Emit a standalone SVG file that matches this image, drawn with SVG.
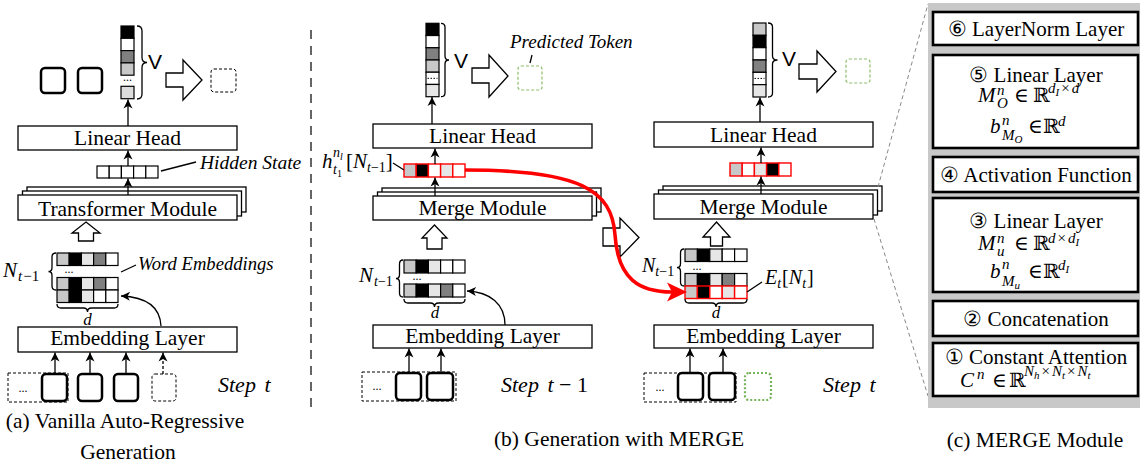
<svg xmlns="http://www.w3.org/2000/svg" width="1140" height="466" viewBox="0 0 1140 466">
<style>
.box{fill:#fff;stroke:#000;stroke-width:1.3}
.t{font-family:"Liberation Serif","DejaVu Serif",serif;font-size:21.5px;fill:#000}
.m{font-family:"Liberation Serif","DejaVu Serif",serif;fill:#000}
.it{font-style:italic}
.sans{font-family:"Liberation Sans",Arial,sans-serif;font-size:21px;fill:#000}
.c{stroke:#000;stroke-width:1.2}
.rc{stroke:#f00;stroke-width:1.4}
.ln{stroke:#000;stroke-width:1.3;fill:none}
.ar{stroke:#000;stroke-width:1.3;fill:none;marker-end:url(#ah)}
.tok{fill:#fff;stroke:#000;stroke-width:2.5}
.dash{fill:none;stroke:#000;stroke-width:1;stroke-dasharray:3 2}
.gdash{fill:none;stroke:#8dbd6c;stroke-width:1.2;stroke-dasharray:3 2}
.hol{fill:#fff;stroke:#000;stroke-width:1.3}
.cbox{fill:#fff;stroke:#000;stroke-width:2.6}
.L1{fill:#c8c8c8}.L2{fill:#e6e6e6}.D{fill:#808080}.B{fill:#000}.W{fill:#fff}
.dots{font-family:"Liberation Serif",serif;font-size:12px;fill:#000}
.ct{font-family:"Liberation Serif","DejaVu Serif",serif;font-size:21px;fill:#000}
.u{font-style:normal}
</style>
<defs>
<marker id="ah" viewBox="-10 -6 11 12" markerWidth="11" markerHeight="12" refX="0" refY="0" orient="auto" markerUnits="userSpaceOnUse">
<path d="M0,0 L-9,-4.5 L-6.5,0 L-9,4.5 z" fill="#000"/>
</marker>
</defs>

<!-- ===== Panel (a) ===== -->
<g id="a-output">
<rect x="121" y="26" width="13" height="12.3" class="c B"/>
<rect x="121" y="38.3" width="13" height="12.3" class="c W"/>
<rect x="121" y="50.6" width="13" height="12.3" class="c D"/>
<rect x="121" y="62.9" width="13" height="12.3" class="c L1"/>
<text x="127.5" y="81" class="dots" text-anchor="middle">...</text>
<rect x="121" y="86.3" width="13" height="12.4" class="c" fill="#dcdcdc"/>
<path d="M137,26 Q142,26 142,31 L142,57.5 Q142,62.5 147,62.5 Q142,62.5 142,67.5 L142,94 Q142,99 137,99" class="ln"/>
<text x="148" y="69" class="sans">V</text>
<polygon points="166,73 183,73 183,60 202,80 183,100 183,87 166,87" class="hol"/>
<rect x="211" y="69" width="25" height="23" rx="3" class="dash"/>
<rect x="41" y="68" width="24" height="25" rx="4" class="tok"/>
<rect x="78" y="68" width="24" height="25" rx="4" class="tok"/>
</g>
<g id="a-linear-head">
<rect x="18" y="126" width="219" height="24" class="box"/>
<text x="127.5" y="145" class="t" text-anchor="middle">Linear Head</text>
</g>
<g id="a-hidden-state">
<rect x="97" y="166" width="12.2" height="12" class="c W"/>
<rect x="109.2" y="166" width="12.2" height="12" class="c W"/>
<rect x="121.4" y="166" width="12.2" height="12" class="c W"/>
<rect x="133.6" y="166" width="12.2" height="12" class="c W"/>
<rect x="145.8" y="166" width="12.2" height="12" class="c W"/>
<line x1="161" y1="171" x2="196" y2="162" class="ln"/>
<text x="200" y="169" class="t it" style="font-size:19.5px">Hidden State</text>
</g>
<g id="a-transformer">
<rect x="27" y="187" width="219" height="25" class="box"/>
<rect x="22.5" y="191" width="219" height="25" class="box"/>
<rect x="18" y="195" width="219" height="25" class="box"/>
<text x="127.5" y="215.5" class="t" text-anchor="middle">Transformer Module</text>
</g>
<g id="a-embeddings">
<polygon points="86,222 100,233 93.5,233 93.5,241 78.5,241 78.5,233 72,233" class="hol"/>
<rect x="57" y="253" width="12.2" height="12.5" class="c L1"/>
<rect x="69.2" y="253" width="12.2" height="12.5" class="c B"/>
<rect x="81.4" y="253" width="12.2" height="12.5" class="c L2"/>
<rect x="93.6" y="253" width="12.2" height="12.5" class="c D"/>
<rect x="105.8" y="253" width="12.2" height="12.5" class="c W"/>
<text x="69" y="273" class="dots" text-anchor="middle">...</text>
<rect x="57" y="277.5" width="12.2" height="12.5" class="c L1"/>
<rect x="69.2" y="277.5" width="12.2" height="12.5" class="c B"/>
<rect x="81.4" y="277.5" width="12.2" height="12.5" class="c L2"/>
<rect x="93.6" y="277.5" width="12.2" height="12.5" class="c D"/>
<rect x="105.8" y="277.5" width="12.2" height="12.5" class="c W"/>
<rect x="57" y="290" width="12.2" height="12.5" class="c L1"/>
<rect x="69.2" y="290" width="12.2" height="12.5" class="c B"/>
<rect x="81.4" y="290" width="12.2" height="12.5" class="c L2"/>
<rect x="93.6" y="290" width="12.2" height="12.5" class="c W"/>
<rect x="105.8" y="290" width="12.2" height="12.5" class="c W"/>
<path d="M56,253 Q52,253 52,257 L52,267.5 Q52,271.5 48.5,271.5 Q52,271.5 52,275.5 L52,286 Q52,290 56,290" class="ln"/>
<text x="3" y="277" class="m it" font-size="21">N<tspan y="281" dx="1" font-size="15">t</tspan><tspan font-size="15" dx="1" class="u">−1</tspan></text>
<line x1="121" y1="272" x2="136" y2="265" class="ln"/>
<text x="138" y="270" class="t it" style="font-size:18.6px">Word Embeddings</text>
<path d="M57,304 Q57,308 61,308 L83.5,308 Q87.5,308 87.5,312 Q87.5,308 91.5,308 L114,308 Q118,308 118,304" class="ln"/>
<text x="87.5" y="325" class="m it" font-size="17" text-anchor="middle">d</text>
</g>
<g id="a-embedding-layer">
<rect x="18" y="327" width="219" height="25" class="box"/>
<text x="127.5" y="345" class="t" text-anchor="middle">Embedding Layer</text>
</g>
<g id="a-inputs">
<rect x="8" y="373" width="60" height="29" class="dash"/>
<text x="23" y="392" class="dots" text-anchor="middle">...</text>
<rect x="42" y="374" width="25" height="27" rx="4" class="tok"/>
<rect x="78" y="374" width="24" height="27" rx="4" class="tok"/>
<rect x="114" y="374" width="24" height="27" rx="4" class="tok"/>
<rect x="152" y="374" width="24" height="27" rx="3" class="dash"/>
<text x="218" y="392" class="t it" style="font-size:22px">Step <tspan dx="3">t</tspan></text>
</g>
<text x="125" y="428" class="t" text-anchor="middle">(a) Vanilla Auto-Regressive</text>
<text x="128" y="459" class="t" text-anchor="middle">Generation</text>
<line x1="311" y1="30" x2="311" y2="412" stroke="#000" stroke-width="1.2" stroke-dasharray="9 7"/>

<!-- ===== Panel (b) ===== -->
<g id="b-output">
<rect x="426" y="23.3" width="13" height="12.23" class="c B"/>
<rect x="426" y="35.53" width="13" height="12.23" class="c W"/>
<rect x="426" y="47.76" width="13" height="12.23" class="c D"/>
<rect x="426" y="59.99" width="13" height="12.23" class="c L1"/>
<rect x="426" y="72.22" width="13" height="12.23" class="c W"/>
<line x1="427.5" y1="78.3" x2="437.5" y2="78.3" stroke="#000" stroke-width="1" stroke-dasharray="1.5 1.5"/>
<rect x="426" y="84.45" width="13" height="12.25" class="c L2"/>
<path d="M441,23.3 Q445,23.3 445,27.3 L445,56 Q445,60 449,60 Q445,60 445,64 L445,92.7 Q445,96.7 441,96.7" class="ln"/>
<text x="454" y="68" class="sans">V</text>
<polygon points="472,68 489,68 489,55 508,76 489,97 489,83 472,83" class="hol"/>
<rect x="518" y="66" width="24" height="24" rx="3" class="gdash"/>
<line x1="532" y1="55" x2="530" y2="63" class="ln"/>
<text x="510" y="48" class="t it" style="font-size:19px">Predicted Token</text>
</g>
<g id="b-linear-head">
<rect x="373" y="124" width="219" height="24" class="box"/>
<text x="482.5" y="143" class="t" text-anchor="middle">Linear Head</text>
</g>
<g id="b-hidden">
<rect x="404" y="164" width="12.2" height="13" class="rc L1"/>
<rect x="416.2" y="164" width="12.2" height="13" class="rc B"/>
<rect x="428.4" y="164" width="12.2" height="13" class="rc W"/>
<rect x="440.6" y="164" width="12.2" height="13" class="rc L2"/>
<rect x="452.8" y="164" width="12.2" height="13" class="rc W"/>
<line x1="393" y1="163" x2="404" y2="170" class="ln"/>
<text x="322" y="168" class="m it" font-size="21">h<tspan x="333" y="157" font-size="14">n</tspan><tspan y="160" font-size="10">l</tspan><tspan x="333" y="174" font-size="14">t</tspan><tspan y="177" font-size="10" class="u">1</tspan><tspan x="346" y="168" class="u">[</tspan><tspan>N</tspan><tspan y="172" font-size="14">t</tspan><tspan font-size="14" class="u">−1</tspan><tspan y="168" class="u">]</tspan></text>
</g>
<g id="b-merge">
<rect x="382" y="188" width="219" height="24" class="box"/>
<rect x="377.5" y="192" width="219" height="24" class="box"/>
<rect x="373" y="196" width="219" height="24" class="box"/>
<text x="482.5" y="215" class="t" text-anchor="middle">Merge Module</text>
</g>
<g id="b-embeddings">
<polygon points="434.5,225 447,238 442,238 442,249 427,249 427,238 422,238" class="hol"/>
<rect x="404" y="260" width="12.2" height="13" class="c L1"/>
<rect x="416.2" y="260" width="12.2" height="13" class="c B"/>
<rect x="428.4" y="260" width="12.2" height="13" class="c L2"/>
<rect x="440.6" y="260" width="12.2" height="13" class="c W"/>
<rect x="452.8" y="260" width="12.2" height="13" class="c W"/>
<text x="417" y="280" class="dots" text-anchor="middle">...</text>
<rect x="404" y="284" width="12.2" height="13" class="c L1"/>
<rect x="416.2" y="284" width="12.2" height="13" class="c B"/>
<rect x="428.4" y="284" width="12.2" height="13" class="c L2"/>
<rect x="440.6" y="284" width="12.2" height="13" class="c D"/>
<rect x="452.8" y="284" width="12.2" height="13" class="c W"/>
<path d="M403,260 Q399.5,260 399.5,264 L399.5,274.5 Q399.5,278.5 396,278.5 Q399.5,278.5 399.5,282.5 L399.5,293 Q399.5,297 403,297" class="ln"/>
<text x="359" y="282" class="m it" font-size="21">N<tspan y="286" dx="1" font-size="14">t</tspan><tspan font-size="14" class="u">−1</tspan></text>
<path d="M404,299 Q404,303 408,303 L430.5,303 Q434.5,303 434.5,307 Q434.5,303 438.5,303 L461,303 Q465,303 465,299" class="ln"/>
<text x="435" y="318" class="m it" font-size="17" text-anchor="middle">d</text>
</g>
<g id="b-embedding-layer">
<rect x="373" y="325" width="219" height="23" class="box"/>
<text x="482.5" y="343" class="t" text-anchor="middle">Embedding Layer</text>
</g>
<g id="b-inputs">
<rect x="362" y="372" width="94" height="29" class="dash"/>
<text x="377" y="390" class="dots" text-anchor="middle">...</text>
<rect x="396" y="373" width="25" height="27" rx="4" class="tok"/>
<rect x="427" y="373" width="26" height="27" rx="4" class="tok"/>
<text x="501" y="392" class="t" style="font-size:22px"><tspan font-style="italic">Step</tspan> <tspan font-style="italic" dx="3">t</tspan> − 1</text>
</g>
<text x="619" y="446" class="t" text-anchor="middle">(b) Generation with MERGE</text>

<!-- ===== Panel (b) right: step t ===== -->
<g id="b2-output">
<rect x="753" y="23" width="13" height="12.33" class="c L1"/>
<rect x="753" y="35.33" width="13" height="12.33" class="c B"/>
<rect x="753" y="47.66" width="13" height="12.33" class="c W"/>
<rect x="753" y="59.99" width="13" height="12.33" class="c D"/>
<rect x="753" y="72.32" width="13" height="12.33" class="c W"/>
<line x1="754.5" y1="78.4" x2="764.5" y2="78.4" stroke="#000" stroke-width="1" stroke-dasharray="1.5 1.5"/>
<rect x="753" y="84.65" width="13" height="12.35" class="c L2"/>
<path d="M768,23 Q772.5,23 772.5,27 L772.5,56 Q772.5,60 777.5,60 Q772.5,60 772.5,64 L772.5,93 Q772.5,97 768,97" class="ln"/>
<text x="782" y="66" class="sans">V</text>
<polygon points="799,64 817,64 817,51 836,71.5 817,92 817,79 799,79" class="hol"/>
<rect x="846" y="59" width="24" height="24" rx="3" class="gdash"/>
</g>
<g id="b2-linear-head">
<rect x="654" y="122" width="219" height="25" class="box"/>
<text x="763.5" y="142" class="t" text-anchor="middle">Linear Head</text>
</g>
<g id="b2-hidden">
<rect x="730" y="163" width="12.2" height="13" class="rc L1"/>
<rect x="742.2" y="163" width="12.2" height="13" class="rc W"/>
<rect x="754.4" y="163" width="12.2" height="13" class="rc L2"/>
<rect x="766.6" y="163" width="12.2" height="13" class="rc B"/>
<rect x="778.8" y="163" width="12.2" height="13" class="rc W"/>
</g>
<g id="b2-merge">
<rect x="663" y="186" width="219" height="25" class="box"/>
<rect x="658.5" y="190" width="219" height="25" class="box"/>
<rect x="654" y="194" width="219" height="25" class="box"/>
<text x="763.5" y="214" class="t" text-anchor="middle">Merge Module</text>
</g>
<g id="b2-embeddings">
<polygon points="716.5,222 730,237 722.5,237 722.5,246 710.5,246 710.5,237 703,237" class="hol"/>
<rect x="685" y="249" width="12.4" height="12.5" class="c L1"/>
<rect x="697.4" y="249" width="12.4" height="12.5" class="c B"/>
<rect x="709.8" y="249" width="12.4" height="12.5" class="c L2"/>
<rect x="722.2" y="249" width="12.4" height="12.5" class="c W"/>
<rect x="734.6" y="249" width="12.4" height="12.5" class="c W"/>
<text x="697" y="270" class="dots" text-anchor="middle">...</text>
<rect x="685" y="273.5" width="12.4" height="12.5" class="c L1"/>
<rect x="697.4" y="273.5" width="12.4" height="12.5" class="c B"/>
<rect x="709.8" y="273.5" width="12.4" height="12.5" class="c L2"/>
<rect x="722.2" y="273.5" width="12.4" height="12.5" class="c D"/>
<rect x="734.6" y="273.5" width="12.4" height="12.5" class="c W"/>
<rect x="685" y="286" width="12.4" height="12.5" class="rc L1"/>
<rect x="697.4" y="286" width="12.4" height="12.5" class="rc B"/>
<rect x="709.8" y="286" width="12.4" height="12.5" class="rc W"/>
<rect x="722.2" y="286" width="12.4" height="12.5" class="rc L2"/>
<rect x="734.6" y="286" width="12.4" height="12.5" class="rc W"/>
<path d="M684,249 Q680.5,249 680.5,253 L680.5,263.5 Q680.5,267.5 677,267.5 Q680.5,267.5 680.5,271.5 L680.5,282 Q680.5,286 684,286" class="ln"/>
<text x="642" y="272" class="m it" font-size="20">N<tspan y="276" font-size="14">t</tspan><tspan font-size="14" class="u">−1</tspan></text>
<line x1="747" y1="292" x2="762" y2="282" class="ln"/>
<text x="765" y="284" class="m it" font-size="20">E<tspan y="288" font-size="14">t</tspan><tspan y="284" dx="1" class="u">[</tspan><tspan>N</tspan><tspan y="288" font-size="14">t</tspan><tspan y="284" dx="1" class="u">]</tspan></text>
<path d="M685,299 Q685,303 689,303 L712,303 Q716,303 716,307 Q716,303 720,303 L743,303 Q747,303 747,299" class="ln"/>
<text x="716" y="318" class="m it" font-size="17" text-anchor="middle">d</text>
</g>
<g id="b2-embedding-layer">
<rect x="654" y="325" width="219" height="23" class="box"/>
<text x="763.5" y="343" class="t" text-anchor="middle">Embedding Layer</text>
</g>
<g id="b2-inputs">
<rect x="644" y="373" width="92" height="29" class="dash"/>
<text x="660" y="391" class="dots" text-anchor="middle">...</text>
<rect x="678" y="373" width="25" height="27" rx="4" class="tok"/>
<rect x="709" y="373" width="26" height="27" rx="4" class="tok"/>
<rect x="745" y="373" width="26" height="27" rx="4" fill="none" stroke="#78b35a" stroke-width="2.2" stroke-dasharray="2 2"/>
<text x="823" y="392" class="t it" style="font-size:22px">Step <tspan dx="3">t</tspan></text>
</g>

<!-- ===== connectors ===== -->
<g id="connectors">
<line x1="128" y1="126" x2="128" y2="99.5" class="ar"/>
<line x1="128" y1="166" x2="128" y2="150.5" class="ar"/>
<line x1="128" y1="195" x2="128" y2="178.5" class="ar"/>
<path d="M161,326 C160,306 146,297 121,296" class="ar"/>
<line x1="55" y1="374" x2="55" y2="352.5" class="ar"/>
<line x1="90" y1="374" x2="90" y2="352.5" class="ar"/>
<line x1="126" y1="374" x2="126" y2="352.5" class="ar"/>
<line x1="163" y1="374" x2="163" y2="352.5" class="ar" stroke-dasharray="3 2"/>

<line x1="432" y1="124" x2="432" y2="97" class="ar"/>
<line x1="435" y1="164" x2="435" y2="148.5" class="ar"/>
<line x1="435" y1="196" x2="435" y2="177.5" class="ar"/>
<path d="M505,325 C505,304 490,292 467,291" class="ar"/>
<line x1="409" y1="373" x2="409" y2="348.5" class="ar"/>
<line x1="441" y1="373" x2="441" y2="348.5" class="ar"/>

<line x1="760" y1="122" x2="760" y2="97.5" class="ar"/>
<line x1="761" y1="163" x2="761" y2="147.5" class="ar"/>
<line x1="761" y1="194" x2="761" y2="176.5" class="ar"/>
<line x1="690" y1="373" x2="690" y2="348.5" class="ar"/>
<line x1="723" y1="373" x2="723" y2="348.5" class="ar"/>

<polygon points="603,228 620,228 620,218 639,237.5 620,257 620,246 603,246" class="hol"/>
<path d="M465,170 C580,170 612,190 615,235 C618,280 640,292 672,292" fill="none" stroke="#f00" stroke-width="3.6"/>
<polygon points="687,292 667,282.5 672,292 667,301.5" fill="#f00"/>

<line x1="878" y1="187" x2="928" y2="4" stroke="#888" stroke-width="1" stroke-dasharray="4 3"/>
<line x1="874" y1="219" x2="928" y2="396" stroke="#888" stroke-width="1" stroke-dasharray="4 3"/>
</g>

<!-- ===== Panel (c) ===== -->
<rect x="928" y="3" width="212" height="405" fill="#c8c8c8"/>
<g id="c-layernorm">
<rect x="933" y="12" width="205" height="33" class="cbox"/>
<text x="1036" y="36" class="ct" text-anchor="middle">⑥ LayerNorm Layer</text>
</g>
<g id="c-linear-out">
<rect x="933" y="55" width="205" height="93" class="cbox"/>
<text x="1036" y="82" class="ct" text-anchor="middle">⑤ Linear Layer</text>
<text x="978" y="102" class="m it" font-size="21">M<tspan x="997" y="95" font-size="15">n</tspan><tspan x="997" y="108" font-size="15">O</tspan><tspan x="1014" y="102" font-size="20" class="u">∈</tspan><tspan x="1033" y="102" font-size="20" class="u">ℝ</tspan><tspan x="1048" y="93" font-size="15">d</tspan><tspan y="96" font-size="11">I</tspan><tspan y="93" dx="2" font-size="15" class="u">×</tspan><tspan dx="2" font-size="15">d</tspan></text>
<text x="990" y="133" class="m it" font-size="21">b<tspan x="1002" y="125" font-size="15">n</tspan><tspan x="1002" y="140" font-size="15">M</tspan><tspan y="143" font-size="11">O</tspan><tspan x="1028" y="133" font-size="20" class="u">∈</tspan><tspan x="1043" y="133" font-size="20" class="u">ℝ</tspan><tspan x="1058" y="126" font-size="15">d</tspan></text>
</g>
<g id="c-activation">
<rect x="933" y="157" width="205" height="35" class="cbox"/>
<text x="1036" y="182" class="ct" text-anchor="middle">④ Activation Function</text>
</g>
<g id="c-linear-up">
<rect x="933" y="198" width="205" height="94" class="cbox"/>
<text x="1036" y="228" class="ct" text-anchor="middle">③ Linear Layer</text>
<text x="978" y="250" class="m it" font-size="21">M<tspan x="997" y="243" font-size="15">n</tspan><tspan x="997" y="256" font-size="15">u</tspan><tspan x="1014" y="250" font-size="20" class="u">∈</tspan><tspan x="1033" y="250" font-size="20" class="u">ℝ</tspan><tspan x="1048" y="243" font-size="15">d</tspan><tspan dx="2" font-size="15" class="u">×</tspan><tspan dx="2" font-size="15">d</tspan><tspan y="246" font-size="11">I</tspan></text>
<text x="990" y="278" class="m it" font-size="21">b<tspan x="1002" y="269" font-size="15">n</tspan><tspan x="1002" y="286" font-size="15">M</tspan><tspan y="289" font-size="11">u</tspan><tspan x="1028" y="278" font-size="20" class="u">∈</tspan><tspan x="1043" y="278" font-size="20" class="u">ℝ</tspan><tspan x="1058" y="270" font-size="15">d</tspan><tspan y="273" font-size="11">I</tspan></text>
</g>
<g id="c-concat">
<rect x="933" y="301" width="205" height="35" class="cbox"/>
<text x="1036" y="326" class="ct" text-anchor="middle">② Concatenation</text>
</g>
<g id="c-attention">
<rect x="933" y="343" width="205" height="53" class="cbox"/>
<text x="1036" y="364" class="ct" text-anchor="middle">① Constant Attention</text>
<text x="960" y="387" class="m it" font-size="21">C<tspan x="977" y="379" font-size="15">n</tspan><tspan x="992" y="387" font-size="20" class="u">∈</tspan><tspan x="1009" y="387" font-size="20" class="u">ℝ</tspan><tspan x="1024" y="376" font-size="15">N</tspan><tspan y="379" font-size="11">h</tspan><tspan y="376" dx="2" font-size="15" class="u">×</tspan><tspan dx="2" font-size="15">N</tspan><tspan y="379" font-size="11">t</tspan><tspan y="376" dx="2" font-size="15" class="u">×</tspan><tspan dx="2" font-size="15">N</tspan><tspan y="379" font-size="11">t</tspan></text>
</g>
<text x="1035" y="447" class="t" text-anchor="middle">(c) MERGE Module</text>
</svg>
